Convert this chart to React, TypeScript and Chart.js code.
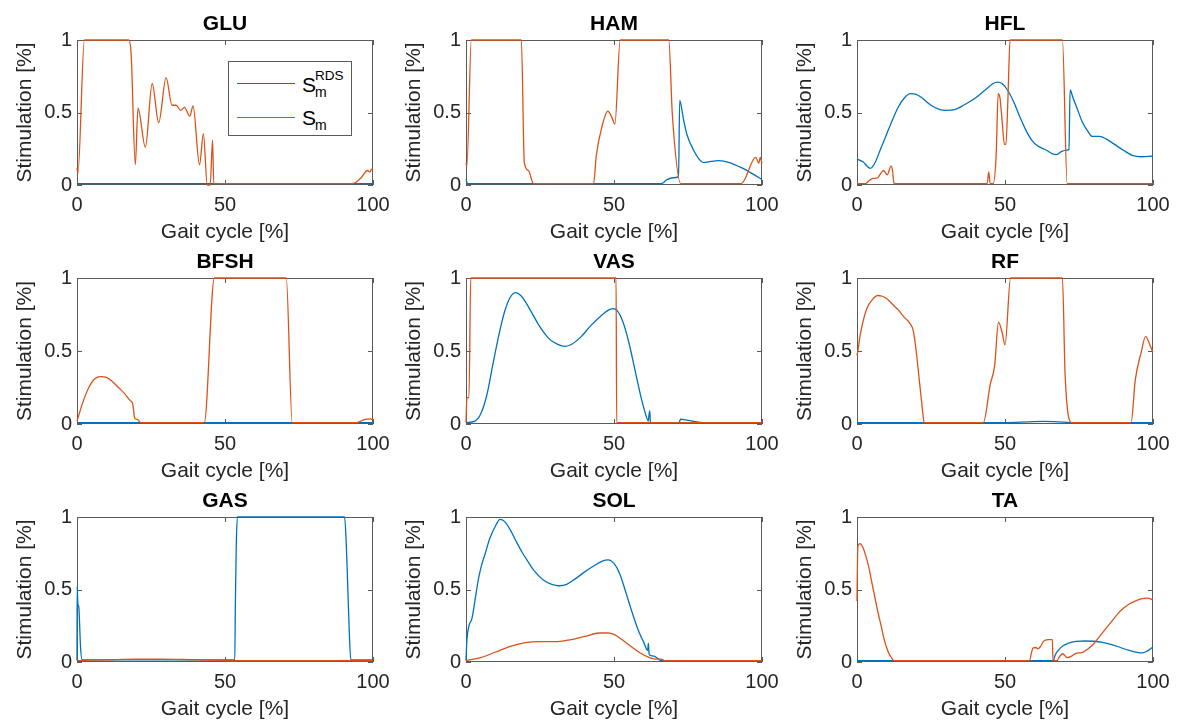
import React, { useEffect, useRef } from 'react';
import { Chart, registerables } from 'chart.js';
Chart.register(...registerables);

const FONT = '"Liberation Sans", Arial, Helvetica, sans-serif';
const BLUE = '#0072BD';
const ORANGE = '#D95319';
const AXIS = '#5a5a5a';

const xTicks = [0, 50, 100];
const yTicks = [0, 0.5, 1];
const xLabel = 'Gait cycle [%]';
const yLabel = 'Stimulation [%]';

// GLU
const gluRdsX = [0, 100];
const gluRdsY = [0.01, 0.01];
const gluSmX = [0, 0.3, 2.5, 17.5, 18.3, 19.7, 20.6, 23.1, 25.4, 27.6, 30.1, 32.1, 33.5, 35, 36.3, 38.1, 39.2, 41.4, 42.7, 44, 45, 45.8, 46.2, 93.2, 96, 98.1, 99, 99.5, 100];
const gluSmY = [0.12, 0.08, 1, 1, 0.9, 0.14, 0.53, 0.26, 0.7, 0.43, 0.74, 0.55, 0.55, 0.515, 0.535, 0.475, 0.545, 0.14, 0.355, 0.0, 0.0, 0.31, 0.01, 0.01, 0.05, 0.1, 0.09, 0.11, 0.1];
// HAM
const hamRdsX = [0, 0.5, 66, 67.9, 70, 71.8, 72.2, 73.5, 74.6, 76.9, 79.1, 80.3, 82, 85.3, 89, 93.2, 97, 100];
const hamRdsY = [0.04, 0.01, 0.01, 0.037, 0.05, 0.058, 0.584, 0.45, 0.35, 0.24, 0.17, 0.155, 0.16, 0.168, 0.155, 0.118, 0.075, 0.037];
const hamSmX = [0, 0.3, 1.8, 18.7, 19.7, 21.1, 22.8, 43.1, 44, 45.9, 47.9, 49.2, 50.3, 52.1, 68.5, 69.7, 72.6, 93, 97.9, 98.9, 99.4, 100];
const hamSmY = [0.15, 0.13, 1, 1, 0.155, 0.1, 0.01, 0.01, 0.2, 0.4, 0.51, 0.47, 0.42, 1, 1, 0.49, 0.01, 0.01, 0.19, 0.15, 0.19, 0.15];
// HFL
const hflRdsX = [0, 2, 4.5, 6, 8, 10, 12, 14, 16, 18, 20, 22, 25, 28, 30, 33, 36, 40, 43, 46, 47.5, 49, 51, 53, 55, 57, 59, 61, 64, 66, 67.5, 69, 71, 71.6, 72, 73, 74.5, 76, 78, 79.5, 82, 84, 87, 90, 93, 96, 100];
const hflRdsY = [0.18, 0.16, 0.115, 0.15, 0.25, 0.35, 0.45, 0.54, 0.6, 0.63, 0.625, 0.6, 0.55, 0.52, 0.515, 0.52, 0.55, 0.6, 0.65, 0.7, 0.71, 0.7, 0.65, 0.57, 0.47, 0.38, 0.31, 0.27, 0.24, 0.215, 0.21, 0.23, 0.24, 0.245, 0.655, 0.6, 0.52, 0.44, 0.37, 0.335, 0.335, 0.32, 0.28, 0.24, 0.205, 0.195, 0.2];
const hflSmX = [0, 3, 4, 5.5, 7, 8, 9, 10.2, 11.5, 12, 12.5, 44, 44.5, 45, 46, 47, 47.7, 48.3, 49, 49.8, 50.3, 51, 51.7, 69.4, 71, 100];
const hflSmY = [0.01, 0.01, 0.03, 0.045, 0.05, 0.08, 0.1, 0.07, 0.13, 0.1, 0.01, 0.01, 0.09, 0.01, 0.01, 0.2, 0.63, 0.6, 0.45, 0.28, 0.28, 0.6, 1, 1, 0.01, 0.01];
// BFSH
const bfshRdsX = [0, 100];
const bfshRdsY = [0.01, 0.01];
const bfshSmX = [0, 2, 4, 6, 8, 10, 12, 14, 16, 18, 18.8, 19.5, 20.5, 21.5, 43, 46.4, 70.7, 72.7, 94.5, 97, 99, 100];
const bfshSmY = [0.02, 0.15, 0.25, 0.31, 0.325, 0.32, 0.29, 0.25, 0.21, 0.16, 0.14, 0.04, 0.03, 0.01, 0.01, 1, 1, 0.01, 0.01, 0.03, 0.035, 0.03];
// VAS
const vasRdsX = [0, 3, 5, 7, 9, 11, 13, 15, 16.8, 18.5, 20, 22, 25, 28, 31, 33.5, 36, 39, 42, 45, 48, 49.5, 51, 53, 55, 57, 59, 60.5, 61.6, 61.8, 62.1, 62.3, 72, 72.5, 75, 80, 100];
const vasRdsY = [0.01, 0.02, 0.07, 0.195, 0.4, 0.6, 0.767, 0.87, 0.9, 0.88, 0.84, 0.77, 0.665, 0.585, 0.545, 0.532, 0.55, 0.6, 0.67, 0.73, 0.778, 0.79, 0.778, 0.7, 0.56, 0.378, 0.195, 0.08, 0.02, 0.06, 0.09, 0.01, 0.01, 0.034, 0.025, 0.01, 0.01];
const vasSmX = [0, 0.3, 1, 1.6, 50.7, 50.9, 100];
const vasSmY = [0.01, 0.18, 0.18, 1, 1, 0.01, 0.01];
// RF
const rfRdsX = [0, 50, 58, 63, 68, 72, 100];
const rfRdsY = [0.01, 0.01, 0.015, 0.018, 0.015, 0.01, 0.01];
const rfSmX = [0, 0.3, 1, 2, 3.5, 5, 7, 8.5, 10, 12, 14, 16, 18, 19, 20, 21, 22, 22.7, 42.7, 45, 46.5, 47.8, 49, 50, 51.9, 69.4, 70.3, 72.5, 92.6, 94, 96, 97.5, 99, 100];
const rfSmY = [0.47, 0.5, 0.6, 0.7, 0.8, 0.847, 0.88, 0.875, 0.86, 0.82, 0.78, 0.73, 0.686, 0.64, 0.5, 0.31, 0.12, 0.01, 0.01, 0.27, 0.4, 0.698, 0.63, 0.542, 1, 1, 0.343, 0.01, 0.01, 0.3, 0.49, 0.6, 0.54, 0.49];
// GAS
const gasRdsX = [0, 0.05, 0.3, 0.6, 1.2, 1.7, 53.3, 53.5, 53.8, 54.2, 90.4, 91, 91.5, 92, 92.5, 100];
const gasRdsY = [0.01, 0.52, 0.4, 0.38, 0.1, 0.015, 0.015, 0.4, 0.8, 1, 1, 0.8, 0.5, 0.2, 0.015, 0.015];
const gasSmX = [0, 10, 20, 28, 40, 55, 100];
const gasSmY = [0.01, 0.015, 0.02, 0.02, 0.015, 0.01, 0.01];
// SOL
const solRdsX = [0, 0.3, 1, 2, 3, 4, 5, 6.5, 8, 10, 11.5, 13, 15, 17, 19, 21, 23, 26, 29, 31.5, 34, 37, 40, 43, 46, 48, 50, 52, 54, 56, 58, 60, 61.4, 61.6, 61.9, 63.5, 65, 66, 100];
const solRdsY = [0.01, 0.15, 0.25, 0.3, 0.42, 0.55, 0.648, 0.748, 0.85, 0.94, 0.984, 0.97, 0.91, 0.83, 0.755, 0.69, 0.63, 0.567, 0.535, 0.526, 0.535, 0.575, 0.62, 0.66, 0.695, 0.705, 0.68, 0.606, 0.48, 0.35, 0.23, 0.137, 0.08, 0.13, 0.05, 0.04, 0.02, 0.01, 0.01];
const solSmX = [0, 5, 10, 15, 20, 25, 30, 35, 40, 45, 48, 50, 53, 56, 59, 62, 64, 66, 67, 100];
const solSmY = [0.01, 0.03, 0.069, 0.108, 0.133, 0.14, 0.14, 0.153, 0.176, 0.2, 0.2, 0.19, 0.15, 0.103, 0.06, 0.03, 0.02, 0.02, 0.01, 0.01];
// TA
const taRdsX = [0, 66.3, 67, 68, 69.5, 71.5, 74, 77, 80, 83, 86, 89, 92, 95, 96.5, 98, 100];
const taRdsY = [0.01, 0.01, 0.05, 0.08, 0.11, 0.13, 0.142, 0.145, 0.143, 0.135, 0.12, 0.1, 0.08, 0.065, 0.063, 0.075, 0.103];
const taSmX = [0, 0.1, 0.3, 1, 2, 3, 4, 5, 6, 7, 8, 9, 10, 11, 12, 12.5, 58.3, 59, 59.5, 60.5, 61, 62, 63, 64.5, 66, 66.2, 67.5, 68.5, 69.5, 71, 72.5, 74, 76, 78, 80, 82, 84, 86, 88, 90, 92, 94, 96, 98, 100];
const taSmY = [0.42, 0.6, 0.8, 0.817, 0.79, 0.73, 0.652, 0.55, 0.45, 0.35, 0.263, 0.17, 0.1, 0.05, 0.02, 0.01, 0.01, 0.07, 0.098, 0.1, 0.09, 0.107, 0.142, 0.155, 0.155, 0.01, 0.01, 0.04, 0.057, 0.03, 0.04, 0.06, 0.065, 0.09, 0.126, 0.178, 0.229, 0.279, 0.33, 0.37, 0.4, 0.42, 0.435, 0.44, 0.43];

const panels = [
  { name: 'GLU', rdsX: gluRdsX, rdsY: gluRdsY, smX: gluSmX, smY: gluSmY },
  { name: 'HAM', rdsX: hamRdsX, rdsY: hamRdsY, smX: hamSmX, smY: hamSmY },
  { name: 'HFL', rdsX: hflRdsX, rdsY: hflRdsY, smX: hflSmX, smY: hflSmY },
  { name: 'BFSH', rdsX: bfshRdsX, rdsY: bfshRdsY, smX: bfshSmX, smY: bfshSmY },
  { name: 'VAS', rdsX: vasRdsX, rdsY: vasRdsY, smX: vasSmX, smY: vasSmY },
  { name: 'RF', rdsX: rfRdsX, rdsY: rfRdsY, smX: rfSmX, smY: rfSmY },
  { name: 'GAS', rdsX: gasRdsX, rdsY: gasRdsY, smX: gasSmX, smY: gasSmY },
  { name: 'SOL', rdsX: solRdsX, rdsY: solRdsY, smX: solSmX, smY: solSmY },
  { name: 'TA', rdsX: taRdsX, rdsY: taRdsY, smX: taSmX, smY: taSmY },
];

// layout (page pixels)
const colLeft = [77, 466, 857];
const rowTop = [40, 278, 517];
const rowH = [145, 146, 145];
const plotW = 296;
const Y_AXIS_W = 76;
const TOP_H = 40;
const X_AXIS_H = 60;
const RIGHT_PAD = 20;

const boxPlugin = {
  id: 'matlabBox',
  beforeDatasetsDraw(chart: any) {
    const { ctx, chartArea } = chart;
    const { left, top, right, bottom } = chartArea;
    const xs = chart.scales.x;
    const ys = chart.scales.y;
    ctx.save();
    ctx.strokeStyle = AXIS;
    ctx.lineWidth = 1;
    ctx.strokeRect(left + 0.5, top + 0.5, right - left - 1, bottom - top - 1);
    ctx.beginPath();
    const tl = 5;
    for (const v of xTicks) {
      const px = Math.round(xs.getPixelForValue(v)) + 0.5;
      ctx.moveTo(px, bottom);
      ctx.lineTo(px, bottom - tl);
      ctx.moveTo(px, top);
      ctx.lineTo(px, top + tl);
    }
    for (const v of yTicks) {
      const py = Math.round(ys.getPixelForValue(v)) + 0.5;
      ctx.moveTo(left, py);
      ctx.lineTo(left + tl, py);
      ctx.moveTo(right, py);
      ctx.lineTo(right - tl, py);
    }
    ctx.stroke();
    ctx.restore();
  },
};

function Panel({ p, col, row }: any) {
  const ref = useRef<HTMLCanvasElement>(null);
  useEffect(() => {
    const pts = (xs: number[], ys: number[]) => xs.map((x, i) => ({ x, y: ys[i] }));
    const chart = new Chart(ref.current as HTMLCanvasElement, {
      type: 'line',
      data: {
        datasets: [
          {
            label: 'S_m^RDS',
            data: pts(p.rdsX, p.rdsY),
            borderColor: BLUE,
            borderWidth: 1.3,
            pointRadius: 0,
            cubicInterpolationMode: 'monotone',
            clip: 2,
            order: 2,
          },
          {
            label: 'S_m',
            data: pts(p.smX, p.smY),
            borderColor: ORANGE,
            borderWidth: 1.3,
            pointRadius: 0,
            cubicInterpolationMode: 'monotone',
            clip: 2,
            order: 1,
          },
        ],
      } as any,
      options: {
        animation: false,
        responsive: true,
        maintainAspectRatio: false,
        events: [],
        layout: { padding: { left: 0, right: RIGHT_PAD, top: 0, bottom: 0 } },
        plugins: {
          legend: { display: false },
          tooltip: { enabled: false },
          title: {
            display: true,
            text: p.name,
            fullSize: false,
            color: '#000',
            font: { family: FONT, size: 21, weight: 'bold', lineHeight: '25px' },
            padding: { top: 12, bottom: 3 },
          },
        },
        scales: {
          x: {
            type: 'linear',
            min: 0,
            max: 100,
            afterBuildTicks: (s: any) => {
              s.ticks = xTicks.map((v) => ({ value: v }));
            },
            afterFit: (s: any) => {
              s.height = X_AXIS_H;
              s.paddingLeft = 0;
              s.paddingRight = 0;
            },
            grid: { display: false, drawTicks: false },
            border: { display: false },
            ticks: {
              color: '#262626',
              font: { family: FONT, size: 20 },
              padding: 8,
              maxRotation: 0,
              callback: (v: any) => String(v),
            },
            title: {
              display: true,
              text: xLabel,
              color: '#262626',
              font: { family: FONT, size: 21 },
              padding: { top: 0, bottom: 0 },
            },
          },
          y: {
            type: 'linear',
            min: 0,
            max: 1,
            afterBuildTicks: (s: any) => {
              s.ticks = yTicks.map((v) => ({ value: v }));
            },
            afterFit: (s: any) => {
              s.width = Y_AXIS_W;
              s.paddingTop = 0;
              s.paddingBottom = 0;
            },
            grid: { display: false, drawTicks: false },
            border: { display: false },
            ticks: {
              color: '#262626',
              font: { family: FONT, size: 20 },
              padding: 5,
              callback: (v: any) => String(v),
            },
            title: {
              display: true,
              text: yLabel,
              color: '#262626',
              font: { family: FONT, size: 21 },
              padding: { top: 12, bottom: 0 },
            },
          },
        },
      } as any,
      plugins: [boxPlugin],
    });
    return () => chart.destroy();
  }, []);
  const left = colLeft[col] - Y_AXIS_W;
  const top = rowTop[row] - TOP_H;
  const width = Y_AXIS_W + plotW + RIGHT_PAD;
  const height = TOP_H + rowH[row] + X_AXIS_H;
  return (
    <div style={{ position: 'absolute', left, top, width, height }}>
      <canvas ref={ref} />
    </div>
  );
}

function LegendText({ left, baseline, sub, sup }: any) {
  const main = 21;
  const small = 13.5;
  const k = 0.8465;
  const common: any = { position: 'absolute', fontFamily: FONT, color: '#000', whiteSpace: 'nowrap' };
  return (
    <>
      <span style={{ ...common, left, top: baseline - k * main, fontSize: main, lineHeight: `${main}px` }}>S</span>
      {sup ? (
        <span style={{ ...common, left: left + 13, top: baseline - 12 - k * small, fontSize: small, lineHeight: `${small}px` }}>{sup}</span>
      ) : null}
      <span style={{ ...common, left: left + 13, top: baseline + 5 - k * 14, fontSize: 14, lineHeight: '14px' }}>{sub}</span>
    </>
  );
}

export default function App() {
  return (
    <div style={{ position: 'absolute', left: 0, top: 0, width: 1179, height: 726, background: '#fff', overflow: 'hidden' }}>
      {panels.map((p, i) => (
        <Panel key={p.name} p={p} col={i % 3} row={Math.floor(i / 3)} />
      ))}
      <div
        style={{
          position: 'absolute',
          left: 228,
          top: 61,
          width: 124,
          height: 75,
          boxSizing: 'border-box',
          border: `1px solid ${AXIS}`,
          background: '#fff',
        }}
      />
      <div style={{ position: 'absolute', left: 237, top: 83, width: 58, height: 1, background: BLUE }} />
      <div style={{ position: 'absolute', left: 237, top: 117, width: 58, height: 1, background: ORANGE }} />
      <LegendText left={302} baseline={92} sub="m" sup="RDS" />
      <LegendText left={302} baseline={125} sub="m" />
    </div>
  );
}
